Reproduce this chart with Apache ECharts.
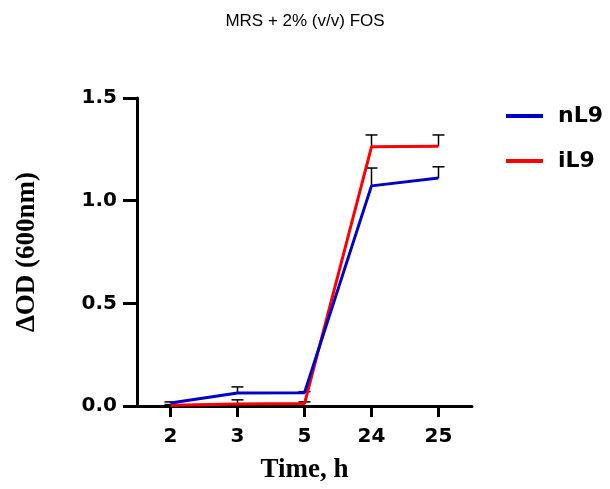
<!DOCTYPE html>
<html>
<head>
<meta charset="utf-8">
<script src="https://cdn.jsdelivr.net/npm/echarts@6/dist/echarts.min.js"></script>
<style>
  html, body { margin: 0; padding: 0; background: #fff; }
  #chart { width: 610px; height: 489px; }
</style>
</head>
<body>
<div id="chart"></div>
<script>
// Sampling times (h) and mean ΔOD600 with SD for each strain
const times = ['2', '3', '5', '24', '25'];
const nL9Mean = [0.015, 0.063, 0.065, 1.072, 1.110];
const nL9Sd   = [0.005, 0.030, 0.005, 0.087, 0.055];
const iL9Mean = [0.004, 0.010, 0.012, 1.262, 1.265];
const iL9Sd   = [0.003, 0.020, 0.008, 0.058, 0.055];
const yTicks  = [0, 0.5, 1.0, 1.5];

const BLUE = '#0000c8';
const RED = '#ff0000';
const TITLE_FONT = 'Liberation Sans, Arial, sans-serif';
const LABEL_FONT = 'DejaVu Sans, sans-serif';
const SERIF = 'Liberation Serif, Times New Roman, serif';

// Upper-only error bars with a short cap
function errorSeries(name, means, sds) {
  return {
    type: 'custom',
    name: name + ' SD',
    z: 1,
    silent: true,
    data: means.map((m, i) => [i, m, m + sds[i]]),
    renderItem: function (params, api) {
      const base = api.coord([api.value(0), api.value(1)]);
      const top = api.coord([api.value(0), api.value(2)]);
      const half = 6;
      const style = { stroke: '#000', lineWidth: 1.5 };
      return {
        type: 'group',
        children: [
          { type: 'line', shape: { x1: base[0], y1: base[1], x2: top[0], y2: top[1] }, style: style },
          { type: 'line', shape: { x1: top[0] - half, y1: top[1], x2: top[0] + half, y2: top[1] }, style: style }
        ]
      };
    }
  };
}

const chart = echarts.init(document.getElementById('chart'), null, { renderer: 'canvas' });
chart.setOption({
  backgroundColor: '#fff',
  animation: false,
  title: {
    text: 'MRS + 2% (v/v) FOS',
    left: 'center',
    top: 8,
    textStyle: { fontFamily: TITLE_FONT, fontSize: 17, fontWeight: 'normal', color: '#000' }
  },
  legend: {
    orient: 'vertical',
    left: 501,
    top: 100,
    itemWidth: 37,
    itemHeight: 4,
    itemGap: 23,
    icon: 'rect',
    data: [
      { name: 'nL9', itemStyle: { color: BLUE } },
      { name: 'iL9', itemStyle: { color: RED } }
    ],
    textStyle: { fontFamily: LABEL_FONT, fontSize: 22, fontWeight: 'bold', color: '#000', padding: [0, 0, 0, 10] }
  },
  grid: { left: 137, right: 138, top: 98, bottom: 83 },
  xAxis: {
    type: 'category',
    data: times,
    boundaryGap: true,
    name: 'Time, h',
    nameLocation: 'middle',
    nameGap: 51,
    nameTextStyle: { fontFamily: SERIF, fontSize: 27, fontWeight: 'bold', color: '#000' },
    axisLine: { show: true, lineStyle: { color: '#000', width: 3 } },
    axisTick: { show: true, inside: false, alignWithLabel: true, length: 11, lineStyle: { color: '#000', width: 3 } },
    axisLabel: { fontFamily: LABEL_FONT, fontSize: 20, fontWeight: 'bold', color: '#000', margin: 21 },
    splitLine: { show: false }
  },
  yAxis: {
    type: 'value',
    min: yTicks[0],
    max: yTicks[yTicks.length - 1],
    interval: 0.5,
    name: 'ΔOD (600nm)',
    nameLocation: 'middle',
    nameRotate: 90,
    nameGap: 96,
    nameTextStyle: { fontFamily: SERIF, fontSize: 27, fontWeight: 'bold', color: '#000' },
    axisLine: { show: true, lineStyle: { color: '#000', width: 3 } },
    axisTick: { show: true, inside: false, length: 14, lineStyle: { color: '#000', width: 3 } },
    axisLabel: {
      fontFamily: LABEL_FONT, fontSize: 20, fontWeight: 'bold', color: '#000', margin: 20,
      formatter: v => v.toFixed(1)
    },
    splitLine: { show: false }
  },
  series: [
    errorSeries('nL9', nL9Mean, nL9Sd),
    errorSeries('iL9', iL9Mean, iL9Sd),
    {
      name: 'iL9', type: 'line', data: iL9Mean, z: 3,
      showSymbol: false, symbol: 'none',
      lineStyle: { color: RED, width: 3 }, itemStyle: { color: RED }
    },
    {
      name: 'nL9', type: 'line', data: nL9Mean, z: 4,
      showSymbol: false, symbol: 'none',
      lineStyle: { color: BLUE, width: 3 }, itemStyle: { color: BLUE }
    }
  ]
});
</script>
</body>
</html>
